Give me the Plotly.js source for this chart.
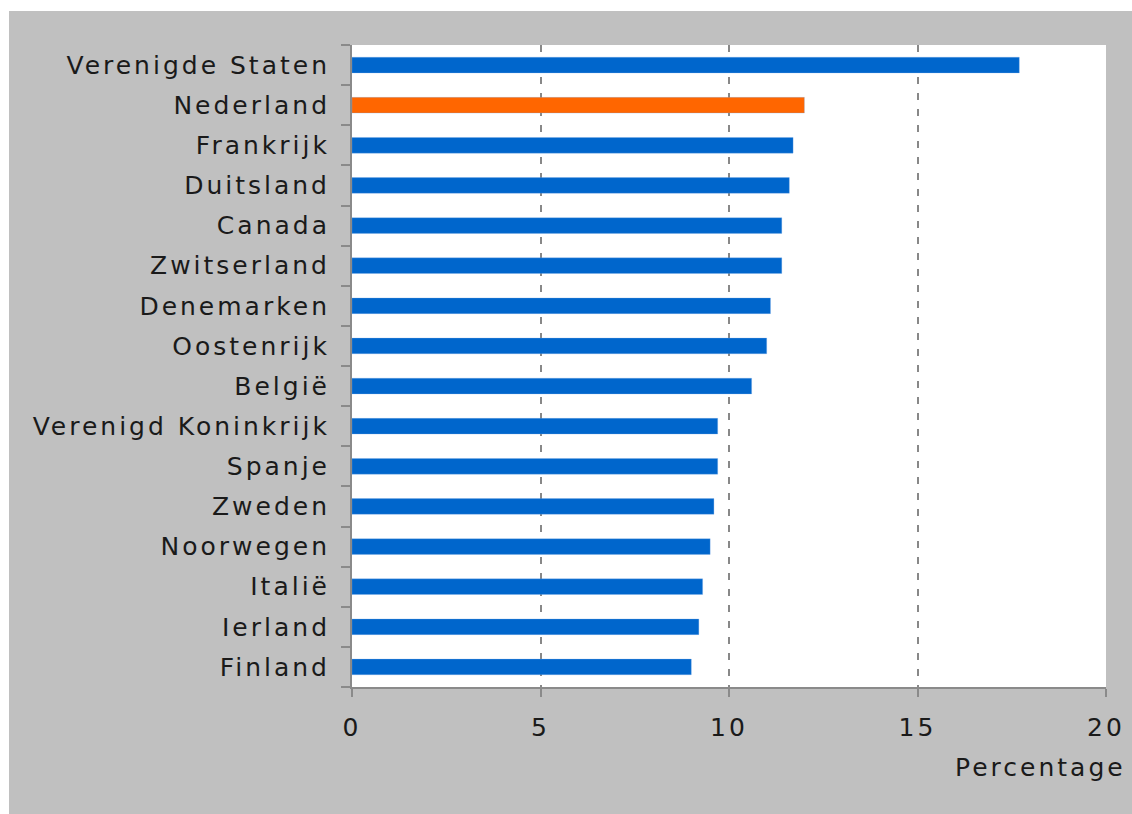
<!DOCTYPE html>
<html>
<head>
<meta charset="utf-8">
<script src="https://cdn.plot.ly/plotly-3.0.1.min.js"></script>
<style>
html, body { margin: 0; padding: 0; background: #ffffff; }
#bg { position: absolute; left: 9px; top: 11px; width: 1123px; height: 803px; background: #c0c0c0; }
#chart { position: absolute; left: 0; top: 0; width: 1132px; height: 814px; }
#chart .ytick text, #chart .xtick text, #chart .annotation-text { letter-spacing: 3px; }
</style>
</head>
<body>
<div id="bg"></div>
<div id="chart"></div>
<script>
const countries = ["Verenigde Staten", "Nederland", "Frankrijk", "Duitsland", "Canada", "Zwitserland",
  "Denemarken", "Oostenrijk", "België", "Verenigd Koninkrijk", "Spanje", "Zweden",
  "Noorwegen", "Italië", "Ierland", "Finland"];
const percentages = [17.7, 12.0, 11.7, 11.6, 11.4, 11.4, 11.1, 11.0, 10.6, 9.7, 9.7, 9.6, 9.5, 9.3, 9.2, 9.0];
const highlight = "Nederland";
const xTicks = [0, 5, 10, 15, 20];
const xTitle = "Percentage";

const colors = countries.map(c => c === highlight ? "#ff6600" : "#0066cc");

const trace = {
  type: "bar",
  orientation: "h",
  y: countries,
  x: percentages,
  width: 0.39,
  marker: { color: colors, line: { color: "rgba(120,170,230,0.6)", width: 0.5 } },
  hoverinfo: "x+y"
};

const font = { family: "DejaVu Sans, Verdana, sans-serif", size: 25, color: "#1a1a1a" };

const layout = {
  width: 1132,
  height: 814,
  margin: { l: 352, r: 26, t: 45, b: 127 },
  paper_bgcolor: "rgba(0,0,0,0)",
  plot_bgcolor: "#ffffff",
  showlegend: false,
  font: font,
  xaxis: {
    range: [0, 20],
    tickvals: xTicks,
    ticktext: xTicks.map(String),
    showgrid: true,
    gridcolor: "#888888",
    gridwidth: 2,
    griddash: "7px,9px",
    zeroline: false,
    showline: true,
    linecolor: "#8a8a8a",
    linewidth: 2,
    ticks: "outside",
    ticklen: 8,
    tickwidth: 2,
    tickcolor: "#8a8a8a",
    ticklabelstandoff: 9,
    tickfont: font,
    fixedrange: true
  },
  yaxis: {
    categoryorder: "array",
    categoryarray: countries.slice().reverse(),
    autorange: false,
    range: [-0.5, countries.length - 0.5],
    showgrid: false,
    zeroline: false,
    showline: true,
    linecolor: "#8a8a8a",
    linewidth: 2,
    ticks: "outside",
    tickson: "boundaries",
    ticklen: 9,
    tickwidth: 2,
    tickcolor: "#8a8a8a",
    ticklabelstandoff: 15,
    tickfont: font,
    fixedrange: true
  },
  annotations: [{
    text: xTitle,
    xref: "paper", yref: "paper",
    x: 1.0088, y: -0.125,
    xanchor: "right", yanchor: "middle",
    showarrow: false,
    font: font
  }]
};

Plotly.newPlot("chart", [trace], layout, { displayModeBar: false, staticPlot: true });
</script>
</body>
</html>
